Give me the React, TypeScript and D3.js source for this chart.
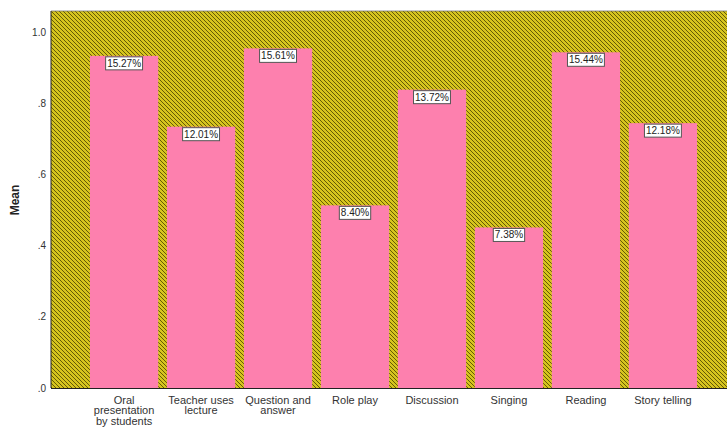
import React, { useEffect, useRef } from "react";
import * as d3 from "d3";

// Teaching methods and their share of responses
const categories: string[][] = [
  ["Oral", "presentation", "by students"],
  ["Teacher uses", "lecture"],
  ["Question and", "answer"],
  ["Role play"],
  ["Discussion"],
  ["Singing"],
  ["Reading"],
  ["Story telling"],
];
const percentLabels: number[] = [15.27, 12.01, 15.61, 8.4, 13.72, 7.38, 15.44, 12.18];
const means: number[] = [0.933, 0.734, 0.954, 0.513, 0.838, 0.451, 0.943, 0.744];
const yTicks: number[] = [0, 0.2, 0.4, 0.6, 0.8, 1.0];

const W = 727;
const H = 427;
const FONT = "Arial, 'Liberation Sans', sans-serif";

export default function App() {
  const ref = useRef<SVGSVGElement | null>(null);

  useEffect(() => {
    const svg = d3.select(ref.current);
    svg.selectAll("*").remove();

    const left = 51;
    const right = 736;
    const top = 11;
    const bottom = 388;

    const x = d3
      .scaleBand<number>()
      .domain(d3.range(categories.length))
      .range([left, right])
      .paddingInner(0.113)
      .paddingOuter(0.506);
    const y = d3.scaleLinear().domain([0, 1.059]).range([bottom, top]);

    // diagonal hatch fill for the plot background
    const defs = svg.append("defs");
    const pat = defs
      .append("pattern")
      .attr("id", "hatch")
      .attr("patternUnits", "userSpaceOnUse")
      .attr("width", 4)
      .attr("height", 4);
    pat.append("rect").attr("width", 4).attr("height", 4).attr("fill", "#d6c41e");
    pat
      .append("path")
      .attr("d", "M-1,-1 L5,5 M-1,3 L1,5 M3,-1 L5,1")
      .attr("stroke", "#4f4800")
      .attr("stroke-width", 0.85);

    svg
      .append("rect")
      .attr("x", left)
      .attr("y", top)
      .attr("width", right - left)
      .attr("height", bottom - top)
      .attr("fill", "url(#hatch)");

    // bars
    svg
      .append("g")
      .selectAll("rect")
      .data(means)
      .join("rect")
      .attr("x", (_, i) => x(i)!)
      .attr("y", (d) => y(d))
      .attr("width", x.bandwidth())
      .attr("height", (d) => y(0) - y(d))
      .attr("fill", "#fd80ae");

    // value labels in boxes
    const lab = svg
      .append("g")
      .selectAll("g")
      .data(means)
      .join("g")
      .attr("transform", (d, i) => `translate(${x(i)! + x.bandwidth() / 2},${y(d) + 1})`);
    lab.each(function (_, i) {
      const g = d3.select(this);
      const t = g
        .append("text")
        .attr("x", 0)
        .attr("y", 10)
        .attr("text-anchor", "middle")
        .attr("font-family", FONT)
        .attr("font-size", 10)
        .attr("fill", "#222")
        .text(`${percentLabels[i].toFixed(2)}%`);
      const w = (t.node() as SVGTextElement).getComputedTextLength() + 3;
      g.insert("rect", "text")
        .attr("x", -w / 2)
        .attr("y", 0)
        .attr("width", w)
        .attr("height", 13)
        .attr("fill", "#fff")
        .attr("stroke", "#555")
        .attr("stroke-width", 1);
    });

    // axes frame
    svg
      .append("line")
      .attr("x1", left)
      .attr("x2", left)
      .attr("y1", top)
      .attr("y2", bottom)
      .attr("stroke", "#222");
    svg
      .append("line")
      .attr("x1", left)
      .attr("x2", W)
      .attr("y1", bottom + 0.5)
      .attr("y2", bottom + 0.5)
      .attr("stroke", "#222");
    svg
      .append("line")
      .attr("x1", left)
      .attr("x2", W)
      .attr("y1", top)
      .attr("y2", top)
      .attr("stroke", "#777")
      .attr("stroke-width", 0.8);

    // y tick labels
    const fmt = (v: number) => (v >= 1 ? v.toFixed(1) : d3.format(".1f")(v).replace(/^0/, ""));
    svg
      .append("g")
      .selectAll("text")
      .data(yTicks)
      .join("text")
      .attr("x", 46)
      .attr("y", (d) => y(d) + 3.5)
      .attr("text-anchor", "end")
      .attr("font-family", FONT)
      .attr("font-size", 10)
      .attr("fill", "#333")
      .text((d) => fmt(d));

    // y axis title
    svg
      .append("text")
      .attr("transform", `translate(19,200) rotate(-90)`)
      .attr("text-anchor", "middle")
      .attr("font-family", FONT)
      .attr("font-size", 12)
      .attr("font-weight", "bold")
      .attr("fill", "#222")
      .text("Mean");

    // category labels
    const cl = svg
      .append("g")
      .selectAll("text")
      .data(categories)
      .join("text")
      .attr("x", (_, i) => x(i)! + x.bandwidth() / 2)
      .attr("y", 403.5)
      .attr("text-anchor", "middle")
      .attr("font-family", FONT)
      .attr("font-size", 11)
      .attr("fill", "#333");
    cl.selectAll("tspan")
      .data((d) => d)
      .join("tspan")
      .attr("x", function () {
        return (this.parentNode as SVGTextElement).getAttribute("x");
      })
      .attr("dy", (_, j) => (j === 0 ? 0 : 10.8))
      .text((d) => d);
  }, []);

  return (
    <svg
      ref={ref}
      width={W}
      height={H}
      style={{ position: "absolute", left: 0, top: 0, display: "block", background: "#fff" }}
    />
  );
}
